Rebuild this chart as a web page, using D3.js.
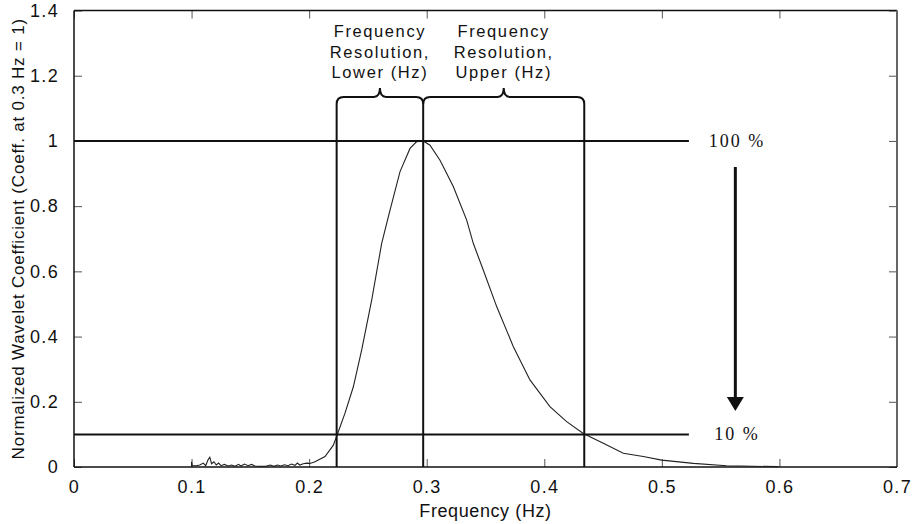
<!DOCTYPE html>
<html>
<head>
<meta charset="utf-8">
<script src="https://cdn.jsdelivr.net/npm/d3@7"></script>
<style>
  body { margin: 0; background: #fff; }
  svg { display: block; }
  .tick text { font-family: "Liberation Sans", Arial, sans-serif; font-size: 18px; fill: #111; letter-spacing: 1.3px; }
  .tick line { stroke: #555; }
  .lbl { font-family: "Liberation Sans", Arial, sans-serif; fill: #111; }
  .pct { font-family: "Liberation Serif", "Times New Roman", serif; font-size: 18px; fill: #111; letter-spacing: 2px; }
</style>
</head>
<body>
<div id="chart"></div>
<script>
// tick values
const xTicks = [0, 0.1, 0.2, 0.3, 0.4, 0.5, 0.6, 0.7];
const yTicks = [0, 0.2, 0.4, 0.6, 0.8, 1, 1.2, 1.4];

// wavelet coefficient curve
const freq = [0.1, 0.1, 0.1005, 0.104, 0.107, 0.11, 0.112, 0.114, 0.1155, 0.117, 0.119, 0.121, 0.123, 0.125,
  0.128, 0.131, 0.134, 0.137, 0.14, 0.142, 0.145, 0.148, 0.151, 0.154, 0.158, 0.163, 0.167, 0.17, 0.173,
  0.176, 0.179, 0.182, 0.185, 0.188, 0.19, 0.192, 0.195, 0.198, 0.2007, 0.205, 0.2135, 0.2206, 0.2248,
  0.2305, 0.2376, 0.2447, 0.2532, 0.2617, 0.2688, 0.2773, 0.2858, 0.2915, 0.297, 0.3028, 0.3113, 0.3226,
  0.334, 0.3396, 0.3481, 0.3595, 0.3737, 0.3878, 0.4048, 0.419, 0.4332, 0.4502, 0.4672, 0.4842, 0.4999,
  0.5268, 0.5551, 0.5665, 0.599];
const coeff = [0, 0.016, 0.004, 0.004, 0.006, 0.012, 0.004, 0.022, 0.03, 0.01, 0.016, 0.006, 0.012, 0.004,
  0.008, 0.003, 0.006, 0.002, 0.008, 0.003, 0.009, 0.004, 0.008, 0.003, 0.002, 0.002, 0.006, 0.002, 0.006,
  0.003, 0.007, 0.004, 0.009, 0.005, 0.012, 0.006, 0.01, 0.012, 0.011, 0.016, 0.032, 0.067, 0.108,
  0.165, 0.246, 0.359, 0.512, 0.686, 0.788, 0.906, 0.977, 0.998, 1.0, 0.987, 0.941, 0.86,
  0.757, 0.686, 0.604, 0.492, 0.369, 0.267, 0.185, 0.139, 0.103, 0.073, 0.042, 0.032, 0.021,
  0.011, 0.004, 0.003, 0.001];

// resolution markers
const lowerFreq = 0.2234;
const peakFreq = 0.297;
const upperFreq = 0.434;
const levels = [1, 0.1];
const levelLabels = ["100 %", "10 %"];

const width = 915, height = 524;
const margin = { top: 10.5, right: 18, bottom: 57, left: 74 };

const svg = d3.select("#chart").append("svg")
  .attr("width", width)
  .attr("height", height);

const x = d3.scaleLinear().domain([0, 0.7]).range([margin.left, width - margin.right]);
const y = d3.scaleLinear().domain([0, 1.4]).range([height - margin.bottom, margin.top]);

const fmt = d => d3.format("~g")(d);

// axes with inward ticks
svg.append("g")
  .attr("transform", `translate(0,${y(0)})`)
  .call(d3.axisBottom(x).tickValues(xTicks).tickFormat(fmt).tickSizeInner(-8).tickSizeOuter(0).tickPadding(13))
  .call(g => g.select(".domain").remove());
svg.append("g")
  .attr("transform", `translate(0,${y(1.4)})`)
  .call(d3.axisTop(x).tickValues(xTicks).tickFormat("").tickSizeInner(-8).tickSizeOuter(0))
  .call(g => g.select(".domain").remove());
svg.append("g")
  .attr("transform", `translate(${x(0)},0)`)
  .call(d3.axisLeft(y).tickValues(yTicks).tickFormat(fmt).tickSizeInner(-8).tickSizeOuter(0).tickPadding(15))
  .call(g => g.select(".domain").remove());
svg.append("g")
  .attr("transform", `translate(${x(0.7)},0)`)
  .call(d3.axisRight(y).tickValues(yTicks).tickFormat("").tickSizeInner(-8).tickSizeOuter(0))
  .call(g => g.select(".domain").remove());

// box
svg.append("line").attr("x1", x(0)).attr("x2", x(0.7)).attr("y1", y(1.4)).attr("y2", y(1.4)).attr("stroke", "#111").attr("stroke-width", 1.5);
svg.append("line").attr("x1", x(0.7)).attr("x2", x(0.7)).attr("y1", y(1.4)).attr("y2", y(0)).attr("stroke", "#666").attr("stroke-width", 2);
svg.append("line").attr("x1", x(0)).attr("x2", x(0.7)).attr("y1", y(0)).attr("y2", y(0)).attr("stroke", "#111").attr("stroke-width", 1.5);
svg.append("line").attr("x1", x(0)).attr("x2", x(0)).attr("y1", y(1.4)).attr("y2", y(0)).attr("stroke", "#111").attr("stroke-width", 1.5);

// curve
const pts = freq.map((f, i) => [f, coeff[i]]);
svg.append("path")
  .datum(pts)
  .attr("fill", "none")
  .attr("stroke", "#222")
  .attr("stroke-width", 1.1)
  .attr("d", d3.line().x(d => x(d[0])).y(d => y(d[1])));

// horizontal level lines
svg.selectAll(".level")
  .data(levels)
  .enter().append("line")
  .attr("x1", x(0)).attr("x2", x(0.523))
  .attr("y1", d => y(d)).attr("y2", d => y(d))
  .attr("stroke", "#111").attr("stroke-width", 2);

svg.selectAll(".pct")
  .data(levels)
  .enter().append("text")
  .attr("class", "pct")
  .attr("x", x(0.564))
  .attr("y", d => y(d) + 6)
  .attr("text-anchor", "middle")
  .text((d, i) => levelLabels[i]);

// arrow from 100% to 10%
svg.append("line")
  .attr("x1", x(0.5625)).attr("x2", x(0.5625))
  .attr("y1", y(0.92)).attr("y2", y(0.2))
  .attr("stroke", "#111").attr("stroke-width", 3);
svg.append("path")
  .attr("d", `M${x(0.5625) - 8.5},${y(0.215)} L${x(0.5625) + 8.5},${y(0.215)} L${x(0.5625)},${y(0.172)} Z`)
  .attr("fill", "#111");

// braces and vertical lines
const braceY = y(1.135), tipY = y(1.162), r = 7;
function brace(a, b) {
  const x1 = x(a), x2 = x(b), mid = (x1 + x2) / 2;
  return `M${x1},${braceY + r} Q${x1},${braceY} ${x1 + r},${braceY} L${mid - 6},${braceY} ` +
    `Q${mid},${braceY} ${mid},${tipY} Q${mid},${braceY} ${mid + 6},${braceY} ` +
    `L${x2 - r},${braceY} Q${x2},${braceY} ${x2},${braceY + r}`;
}
[[lowerFreq, peakFreq], [peakFreq, upperFreq]].forEach(p => {
  svg.append("path").attr("d", brace(p[0], p[1]))
    .attr("fill", "none").attr("stroke", "#111").attr("stroke-width", 2);
});
[lowerFreq, peakFreq, upperFreq].forEach(f => {
  svg.append("line")
    .attr("x1", x(f)).attr("x2", x(f))
    .attr("y1", braceY + r).attr("y2", y(0))
    .attr("stroke", "#111").attr("stroke-width", 2);
});

// annotation labels
const annot = [
  { f: (lowerFreq + peakFreq) / 2, lines: ["Frequency", "Resolution,", "Lower (Hz)"] },
  { f: (peakFreq + upperFreq) / 2, lines: ["Frequency", "Resolution,", "Upper (Hz)"] }
];
annot.forEach(a => {
  const t = svg.append("text")
    .attr("class", "lbl")
    .attr("text-anchor", "middle")
    .style("font-size", "16.5px")
    .style("letter-spacing", "1.6px");
  a.lines.forEach((s, i) => {
    t.append("tspan").attr("x", x(a.f)).attr("y", 37 + i * 20.7).text(s);
  });
});

// axis titles
svg.append("text")
  .attr("class", "lbl")
  .attr("x", (x(0) + x(0.7)) / 2)
  .attr("y", 517)
  .attr("text-anchor", "middle")
  .style("font-size", "18px")
  .style("letter-spacing", "0.6px")
  .text("Frequency (Hz)");

svg.append("text")
  .attr("class", "lbl")
  .attr("transform", `translate(24,${(y(0) + y(1.4)) / 2}) rotate(-90)`)
  .attr("text-anchor", "middle")
  .style("font-size", "17px")
  .style("letter-spacing", "0.8px")
  .text("Normalized Wavelet Coefficient (Coeff. at 0.3 Hz = 1)");
</script>
</body>
</html>
